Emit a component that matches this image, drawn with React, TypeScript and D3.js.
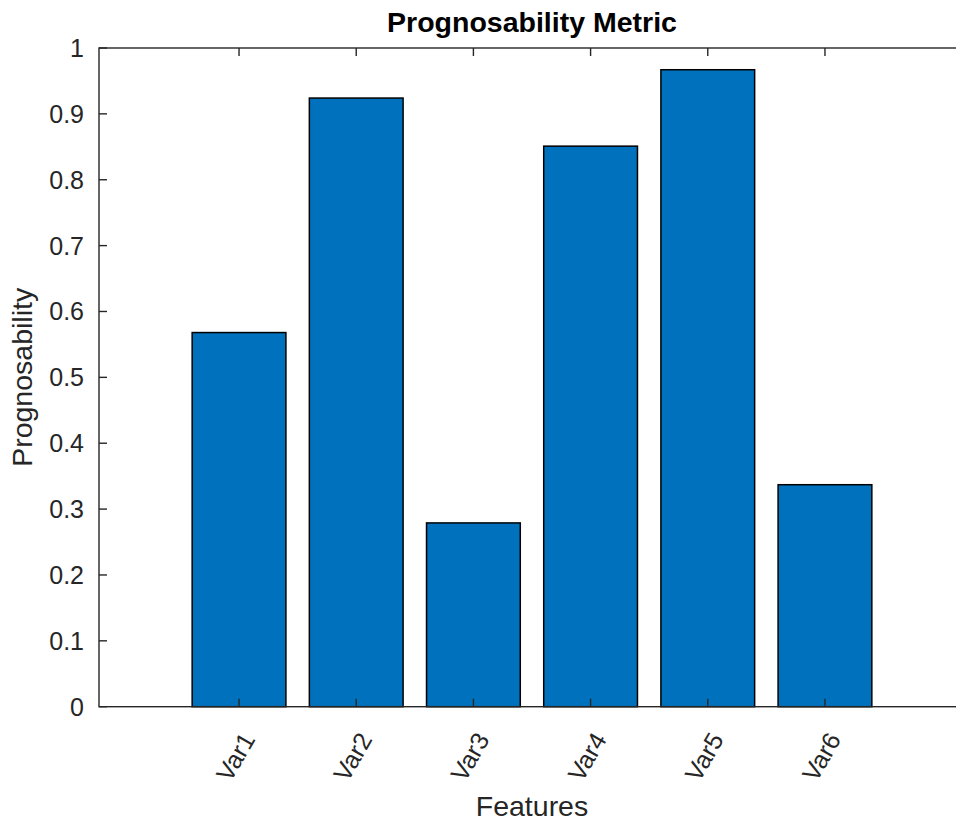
import React, { useEffect, useRef } from "react";
import * as d3 from "d3";

const categories: string[] = ["Var1", "Var2", "Var3", "Var4", "Var5", "Var6"];
const values: number[] = [0.568, 0.924, 0.279, 0.851, 0.967, 0.337];
const yTicks: number[] = [0, 0.1, 0.2, 0.3, 0.4, 0.5, 0.6, 0.7, 0.8, 0.9, 1];
const titleText = "Prognosability Metric";
const xLabelText = "Features";
const yLabelText = "Prognosability";

const W = 956;
const H = 821;
const FONT = "'Liberation Sans', Arial, Helvetica, sans-serif";
const INK = "#262626";

export default function App() {
  const ref = useRef<SVGSVGElement | null>(null);

  useEffect(() => {
    const svg = d3.select(ref.current);
    svg.selectAll("*").remove();

    const left = 99, right = 965, top = 48, bottom = 706.7;

    const x = d3
      .scaleBand<string>()
      .domain(categories)
      .range([left, right])
      .paddingInner(0.2)
      .paddingOuter(0.795)
      .align(0.5);
    const y = d3.scaleLinear().domain([0, 1]).range([bottom, top]);

    // bars
    svg
      .append("g")
      .selectAll("rect")
      .data(values)
      .join("rect")
      .attr("x", (_d, i) => x(categories[i])!)
      .attr("width", x.bandwidth())
      .attr("y", (d) => y(d))
      .attr("height", (d) => y(0) - y(d))
      .attr("fill", "#0072BD")
      .attr("stroke", "#000")
      .attr("stroke-width", 1.5);

    const tickLen = 8;
    const g = svg.append("g").attr("stroke", INK).attr("stroke-width", 1.4).attr("fill", "none");
    // box
    g.append("rect")
      .attr("x", left)
      .attr("y", top)
      .attr("width", right - left)
      .attr("height", bottom - top);

    // y ticks (left and right, inward)
    yTicks.forEach((t) => {
      g.append("line").attr("x1", left).attr("x2", left + tickLen).attr("y1", y(t)).attr("y2", y(t));
      g.append("line").attr("x1", right).attr("x2", right - tickLen).attr("y1", y(t)).attr("y2", y(t));
    });
    // x ticks (bottom and top, inward)
    categories.forEach((c) => {
      const cx = x(c)! + x.bandwidth() / 2;
      g.append("line").attr("x1", cx).attr("x2", cx).attr("y1", bottom).attr("y2", bottom - tickLen);
      g.append("line").attr("x1", cx).attr("x2", cx).attr("y1", top).attr("y2", top + tickLen);
    });

    // y tick labels
    svg
      .append("g")
      .selectAll("text")
      .data(yTicks)
      .join("text")
      .attr("x", left - 15)
      .attr("y", (d) => y(d))
      .attr("dy", "0.36em")
      .attr("text-anchor", "end")
      .attr("font-family", FONT)
      .attr("font-size", 25)
      .attr("fill", INK)
      .text((d) => d3.format("~g")(d));

    // x tick labels rotated
    svg
      .append("g")
      .selectAll("text")
      .data(categories)
      .join("text")
      .attr("transform", (d) => `translate(${x(d)! + x.bandwidth() / 2 + 9},${bottom + 28}) rotate(-60)`)
      .attr("dy", "0.36em")
      .attr("text-anchor", "end")
      .attr("font-family", FONT)
      .attr("font-size", 25)
      .attr("fill", INK)
      .text((d) => d);

    // title
    svg
      .append("text")
      .attr("x", (left + right) / 2)
      .attr("y", 32)
      .attr("text-anchor", "middle")
      .attr("font-family", FONT)
      .attr("font-weight", "bold")
      .attr("font-size", 28.5)
      .attr("fill", "#000")
      .text(titleText);

    // x label
    svg
      .append("text")
      .attr("x", (left + right) / 2)
      .attr("y", 816)
      .attr("text-anchor", "middle")
      .attr("font-family", FONT)
      .attr("font-size", 28.5)
      .attr("fill", INK)
      .text(xLabelText);

    // y label
    svg
      .append("text")
      .attr("transform", `translate(32,${(top + bottom) / 2}) rotate(-90)`)
      .attr("text-anchor", "middle")
      .attr("font-family", FONT)
      .attr("font-size", 28.5)
      .attr("fill", INK)
      .text(yLabelText);
  }, []);

  return (
    <div style={{ position: "absolute", left: 0, top: 0, width: W, height: H, overflow: "hidden", background: "#fff" }}>
      <svg ref={ref} width={W} height={H} style={{ display: "block" }} />
    </div>
  );
}
